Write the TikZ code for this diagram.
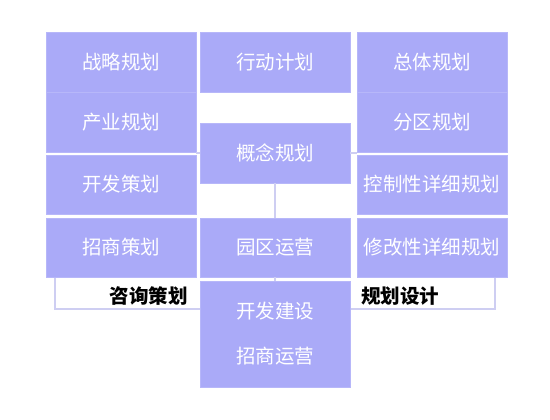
\documentclass[tikz,border=0pt]{standalone}
\usepackage{fontspec}
\newfontfamily\cjk{Noto Sans CJK SC}
\definecolor{BoxBlue}{RGB}{170,170,248}
\definecolor{LineBlue}{RGB}{206,206,242}
\usetikzlibrary{positioning, calc}

\begin{document}
\begin{tikzpicture}[x=1pt, y=-1pt,
    block/.style={fill=BoxBlue, draw=BoxBlue!85!white, text=white,
                  minimum width=150, minimum height=60, inner sep=0pt,
                  align=center, font=\cjk\fontsize{19.5}{23}\selectfont},
    tag/.style={text=black, inner sep=0pt,
                font=\cjk\bfseries\fontsize{19.5}{23}\selectfont},
    link/.style={draw=LineBlue, line width=1.5pt},
    frame/.style={draw=LineBlue, line width=1.5pt}]
  \useasboundingbox (0,0) rectangle (550,420);

  % Brackets under the side columns
  \coordinate (lb) at (55,309);
  \coordinate (rb) at (495,309);
  \draw[frame] (lb |- 0,277) -- (lb) -- (275,309);
  \draw[frame] (rb |- 0,277) -- (rb) -- (275,309);

  % Consulting column
  \node[block] (s1) at (121,62) {战略规划};
  \node[block] (s2) at (121,122) {产业规划};
  \node[block, minimum height=59] (s3) at (121,184.5) {开发策划};
  \node[block, minimum height=59] (s4) at (121,247.5) {招商策划};

  % Middle column
  \node[block] (act) at (275,62) {行动计划};
  \node[block] (idea) at (275,153) {概念规划};
  \node[block, minimum height=59] (park) at (275,247.5) {园区运营};
  \node[block, minimum height=106] (build) at (275,334)
    {开发建设\\[22pt]招商运营};

  % Design column
  \node[block] (r1) at (432,62) {总体规划};
  \node[block] (r2) at (432,122) {分区规划};
  \node[block, minimum height=59] (r3) at (432,184.5) {控制性详细规划};
  \node[block, minimum height=59] (r4) at (432,247.5) {修改性详细规划};

  \node[tag, anchor=east] (lt) at (188,296) {咨询策划};
  \node[tag, anchor=west] (rt) at (361,296) {规划设计};

  \draw[link] (idea.west) -- (idea.west -| s2.east);
  \draw[link] (idea.east) -- (idea.east -| r2.west);
  \draw[link] (idea.south) -- (park.north);
  \draw[link] (park.south) -- (build.north);
\end{tikzpicture}
\end{document}
